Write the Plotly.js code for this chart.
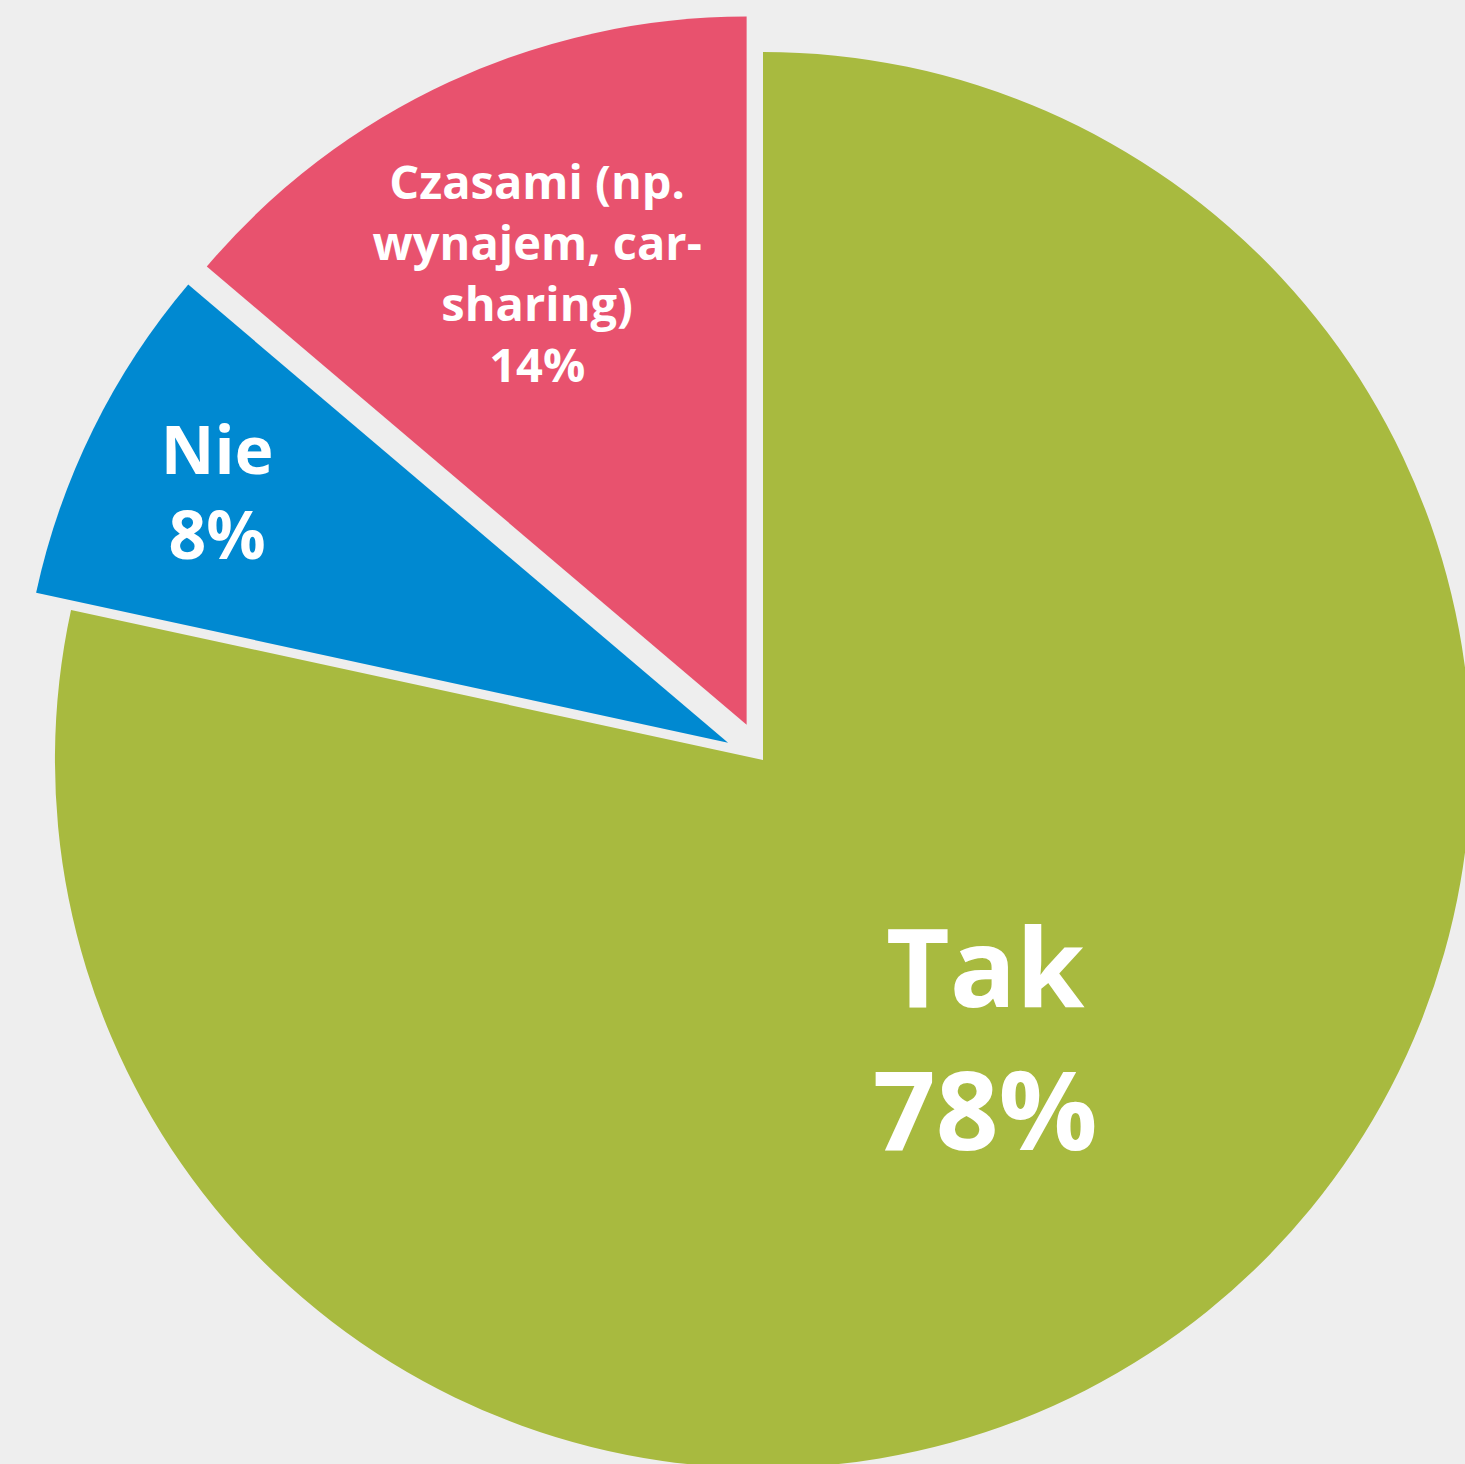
<!DOCTYPE html>
<html>
<head>
<meta charset="utf-8">
<script src="https://cdn.plot.ly/plotly-3.0.1.min.js"></script>
<style>
html, body { margin: 0; padding: 0; background: #EEEEEE; overflow: hidden; width: 1465px; height: 1464px; }
#chart { width: 1510px; height: 1507px; }
</style>
</head>
<body>
<div id="chart"></div>
<script>
const labels = ["Tak", "Nie", "Czasami (np.<br>wynajem, car-<br>sharing)"];
const values = [78.4, 7.8, 13.8];
const colors = ["#A8BA3F", "#0089D1", "#E8526E"];
const pulls = [0, 0.055, 0.055];
const textSizes = [110, 66, 47];

const data = [{
  type: "pie",
  labels: labels,
  values: values,
  sort: false,
  direction: "clockwise",
  rotation: 0,
  pull: pulls,
  marker: { colors: colors, line: { width: 0 } },
  textinfo: "label+percent",
  texttemplate: "%{label}<br>%{percent:.0%}",
  textposition: "inside",
  insidetextorientation: "horizontal",
  textfont: { family: "Open Sans", color: "#FFFFFF", size: textSizes, weight: 700 },
  hoverinfo: "none",
  showlegend: false
}];

const layout = {
  width: 1510,
  height: 1507,
  margin: { l: 16, r: 0, t: 13, b: 0 },
  paper_bgcolor: "#EEEEEE",
  plot_bgcolor: "#EEEEEE",
  showlegend: false
};

Plotly.newPlot("chart", data, layout, { displayModeBar: false, staticPlot: true });
</script>
</body>
</html>
